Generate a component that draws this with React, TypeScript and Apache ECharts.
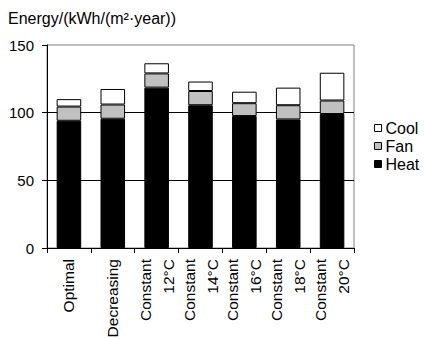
import React, { useEffect, useRef } from "react";
import * as echarts from "echarts";

const categories = ["Optimal", "Decreasing", "Constant\n12°C", "Constant\n14°C", "Constant\n16°C", "Constant\n18°C", "Constant\n20°C"];
const heat = [94, 95.5, 118.5, 105.5, 97.5, 95, 99];
const fan = [10.5, 10.5, 10.5, 10.5, 9.5, 10.5, 10];
const cool = [5.5, 11.5, 7.5, 7, 8.5, 13, 20.5];
const yTicks = { min: 0, max: 150, interval: 50 };

const FONT = "Arial, 'Liberation Sans', sans-serif";

export default function App() {
  const ref = useRef<HTMLDivElement>(null);
  useEffect(() => {
    if (!ref.current) return;
    const chart = echarts.init(ref.current, undefined, { renderer: "svg" });
    const seg = (name: string, data: number[], color: string) => ({
      name,
      type: "bar",
      stack: "e",
      data,
      barWidth: "56%",
      itemStyle: { color, borderColor: "#000", borderWidth: 1 },
    });
    chart.setOption({
      animation: false,
      backgroundColor: "#fff",
      textStyle: { fontFamily: FONT },
      title: {
        text: "Energy/(kWh/(m²·year))",
        left: 3,
        top: 5,
        textStyle: { fontFamily: FONT, fontSize: 16, fontWeight: "normal", color: "#000" },
      },
      legend: {
        orient: "vertical",
        left: 369,
        top: 114,
        itemWidth: 7,
        itemHeight: 7,
        itemGap: 0,
        icon: "rect",
        data: ["Cool", "Fan", "Heat"],
        itemStyle: { borderColor: "#000", borderWidth: 1 },
        textStyle: { fontFamily: FONT, fontSize: 16, color: "#000", padding: [0, 0, 0, -1], lineHeight: 18 },
      },
      grid: {
        left: 47,
        right: 70,
        top: 45,
        bottom: 91,
        outerBoundsMode: "none",
        containLabel: false,
        show: true,
        borderColor: "#808080",
        borderWidth: 1,
      },
      xAxis: {
        type: "category",
        data: categories,
        axisLine: { lineStyle: { color: "#000" } },
        axisTick: { show: true, length: 5, lineStyle: { color: "#000" } },
        axisLabel: {
          rotate: 90,
          interval: 0,
          margin: 11,
          fontFamily: FONT,
          fontSize: 15.5,
          color: "#000",
          lineHeight: 23,
        },
      },
      yAxis: {
        type: "value",
        min: yTicks.min,
        max: yTicks.max,
        interval: yTicks.interval,
        axisLine: { show: true, lineStyle: { color: "#000" } },
        axisTick: { show: true, length: 5, lineStyle: { color: "#000" } },
        axisLabel: { fontFamily: FONT, fontSize: 15, color: "#000", margin: 13 },
        splitLine: { show: true, showMaxLine: false, lineStyle: { color: "#000", width: 1 } },
      },
      series: [
        seg("Heat", heat, "#000000"),
        seg("Fan", fan, "#c0c0c0"),
        seg("Cool", cool, "#ffffff"),
      ],
    });
    return () => chart.dispose();
  }, []);
  return (
    <div
      ref={ref}
      style={{ position: "fixed", left: 0, top: 0, width: 424, height: 339, background: "#fff" }}
    />
  );
}
